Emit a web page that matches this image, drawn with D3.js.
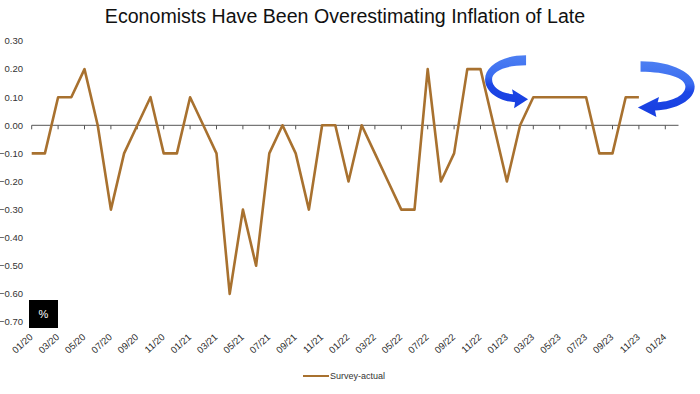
<!DOCTYPE html>
<html lang="en">
<head>
    <title>Economists Have Been Overestimating Inflation of Late</title>
    <script src="https://d3js.org/d3.v7.min.js" charset="utf-8"></script>
    <style>
    body {
        margin: 0;
        background: #fff;
        font-family: "Liberation Sans", Arial, sans-serif;
    }
    .title {
        font-size: 19.6px;
        fill: #111;
    }
    .ylab, .legend-text {
        fill: #333;
    }
    .xlab {
        fill: #2a2a2a;
    }
    </style>
</head>
<body>
    <script>

    // monthly survey minus actual, 01/20 .. 11/23
    var months = ["01/20","02/20","03/20","04/20","05/20","06/20","07/20","08/20","09/20","10/20","11/20","12/20",
                  "01/21","02/21","03/21","04/21","05/21","06/21","07/21","08/21","09/21","10/21","11/21","12/21",
                  "01/22","02/22","03/22","04/22","05/22","06/22","07/22","08/22","09/22","10/22","11/22","12/22",
                  "01/23","02/23","03/23","04/23","05/23","06/23","07/23","08/23","09/23","10/23","11/23"];
    var surveyActual = [-0.1,-0.1,0.1,0.1,0.2,0.0,-0.3,-0.1,0.0,0.1,-0.1,-0.1,
                        0.1,0.0,-0.1,-0.6,-0.3,-0.5,-0.1,0.0,-0.1,-0.3,0.0,0.0,
                        -0.2,0.0,-0.1,-0.2,-0.3,-0.3,0.2,-0.2,-0.1,0.2,0.2,0.0,
                        -0.2,0.0,0.1,0.1,0.1,0.1,0.1,-0.1,-0.1,0.1,0.1];
    var xTickLabels = ["01/20","03/20","05/20","07/20","09/20","11/20","01/21","03/21","05/21","07/21","09/21","11/21",
                       "01/22","03/22","05/22","07/22","09/22","11/22","01/23","03/23","05/23","07/23","09/23","11/23","01/24"];
    var yTicks = [0.3,0.2,0.1,0.0,-0.1,-0.2,-0.3,-0.4,-0.5,-0.6,-0.7];

    var width = 700,
        height = 394;

    var svg = d3.select("body")
        .append("svg")
        .attr("width", width)
        .attr("height", height);

    var x = d3.scaleLinear()
        .domain([0, 49])
        .range([31.7, 678.5]);

    var y = d3.scaleLinear()
        .domain([-0.7, 0.3])
        .range([322, 41]);

    // title
    svg.append("text")
        .attr("class", "title")
        .attr("x", 345)
        .attr("y", 23)
        .attr("text-anchor", "middle")
        .text("Economists Have Been Overestimating Inflation of Late");

    // y labels (no axis line)
    svg.selectAll(".ylab")
        .data(yTicks)
        .enter()
        .append("text")
        .attr("class", "ylab")
        .attr("x", 23)
        .attr("y", function(d) { return y(d); })
        .attr("dy", "0.35em")
        .attr("text-anchor", "end")
        .style("font-size", "9.5px")
        .text(function(d) { return d3.format(".2f")(d); });

    // zero line with ticks every 2 months
    svg.append("line")
        .attr("x1", x(0))
        .attr("x2", x(49))
        .attr("y1", y(0))
        .attr("y2", y(0))
        .attr("stroke", "#555")
        .attr("stroke-width", 1);

    svg.selectAll(".tick")
        .data(xTickLabels)
        .enter()
        .append("line")
        .attr("class", "tick")
        .attr("x1", function(d, i) { return x(i * 2); })
        .attr("x2", function(d, i) { return x(i * 2); })
        .attr("y1", y(0))
        .attr("y2", y(0) + 4)
        .attr("stroke", "#555");

    // rotated x labels along the bottom
    svg.selectAll(".xlab")
        .data(xTickLabels)
        .enter()
        .append("text")
        .attr("class", "xlab")
        .attr("text-anchor", "end")
        .attr("transform", function(d, i) {
            return "translate(" + (x(i * 2) - 0.5) + ",335.5) rotate(-42)";
        })
        .attr("dy", "0.35em")
        .style("font-size", "9.5px")
        .text(function(d) { return d; });

    // the series
    var line = d3.line()
        .x(function(d, i) { return x(i); })
        .y(function(d) { return y(d); });

    svg.append("path")
        .datum(surveyActual)
        .attr("fill", "none")
        .attr("stroke", "#a8712f")
        .attr("stroke-width", 2.6)
        .attr("stroke-linejoin", "round")
        .attr("d", line);

    // % box
    svg.append("rect")
        .attr("x", 29)
        .attr("y", 300)
        .attr("width", 29)
        .attr("height", 28)
        .attr("fill", "#000");
    svg.append("text")
        .attr("x", 43.5)
        .attr("y", 314)
        .attr("dy", "0.35em")
        .attr("text-anchor", "middle")
        .attr("fill", "#fff")
        .style("font-size", "11px")
        .text("%");

    // curved blue arrows
    var defs = svg.append("defs");
    var grad = defs.append("linearGradient")
        .attr("id", "blueGrad")
        .attr("x1", 0).attr("y1", 0)
        .attr("x2", 0).attr("y2", 1);
    grad.append("stop").attr("offset", "0%").attr("stop-color", "#4d7ff2");
    grad.append("stop").attr("offset", "40%").attr("stop-color", "#3a6cf0");
    grad.append("stop").attr("offset", "55%").attr("stop-color", "#1d47e6");
    grad.append("stop").attr("offset", "100%").attr("stop-color", "#173ee0");

    var arrowPath = "M0,0 C-25,0 -41,12 -41,24 C-41,37 -27,46 -11,47 L-12,53 L2,44 L-14,34 L-13,39 " +
                    "C-25,38 -34,32 -34,24 C-34,16 -20,10 0,10 Z";

    svg.append("path")
        .attr("d", arrowPath)
        .attr("fill", "url(#blueGrad)")
        .attr("transform", "translate(" + (x(37.3) + 2) + "," + (y(0.093) - 44) + ")");

    svg.append("path")
        .attr("d", arrowPath)
        .attr("fill", "url(#blueGrad)")
        .attr("transform", "translate(" + (x(46.2) - 1) + "," + (y(0.075) - 43) + ") scale(-1.32,1.05)");

    // legend
    svg.append("line")
        .attr("x1", 303)
        .attr("x2", 329)
        .attr("y1", 376)
        .attr("y2", 376)
        .attr("stroke", "#a8712f")
        .attr("stroke-width", 2);
    svg.append("text")
        .attr("class", "legend-text")
        .attr("x", 330)
        .attr("y", 376)
        .attr("dy", "0.35em")
        .style("font-size", "9px")
        .text("Survey-actual");

    </script>
</body>
</html>
